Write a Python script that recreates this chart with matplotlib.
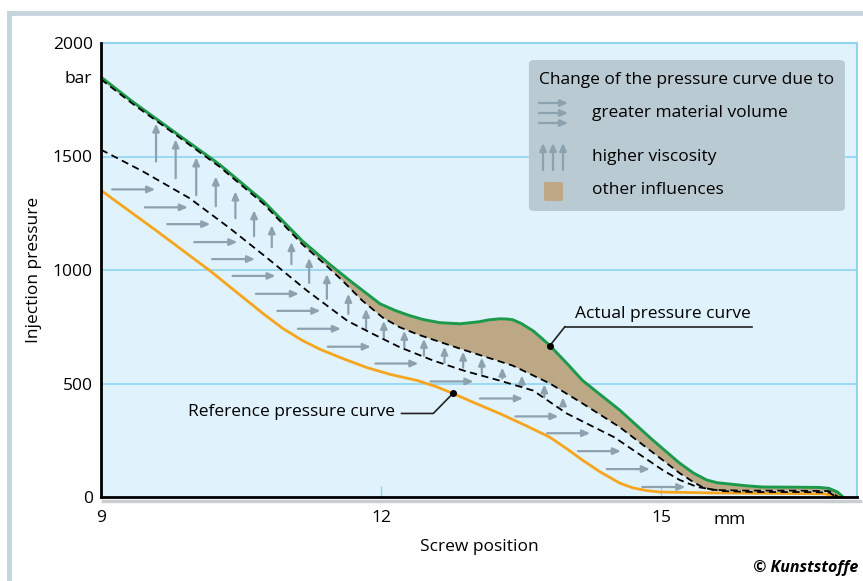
import numpy as np
import matplotlib
matplotlib.use("Agg")
import matplotlib.pyplot as plt
from matplotlib.patches import FancyBboxPatch
from matplotlib.lines import Line2D

plt.rcParams["font.family"] = ["Open Sans", "DejaVu Sans"]

# actual pressure curve (green)
act_x = [9.0, 9.34, 9.8, 10.27, 10.74, 11.16, 11.45, 11.67, 11.85, 11.99, 12.15, 12.3,
         12.45, 12.63, 12.85, 13.05, 13.15, 13.27, 13.35, 13.41, 13.5, 13.63, 13.72,
         13.81, 14.0, 14.16, 14.56, 14.9, 15.2, 15.35, 15.49, 15.6, 15.74, 15.9, 16.09,
         16.5, 16.7, 16.8, 16.89, 16.95]
act_y = [1850, 1741, 1604, 1465, 1303, 1127, 1025, 952, 895, 851, 822, 800,
         782, 768, 763, 772, 780, 785, 784, 781, 765, 732, 700,
         667, 585, 513, 382, 255, 149, 105, 75, 63, 57, 50, 44,
         43, 42, 38, 22, 0]
# upper dashed curve (higher viscosity)
up_x = [9.0, 9.34, 9.8, 10.27, 10.74, 11.16, 11.4, 11.59, 11.8, 12.02, 12.2, 12.4,
        12.85, 13.41, 13.81, 14.16, 14.56, 14.9, 15.2, 15.35, 15.45, 15.56, 15.9,
        16.4, 16.8, 16.9]
up_y = [1840, 1732, 1596, 1455, 1292, 1112, 1025, 952, 865, 790, 748, 715,
        653, 579, 500, 412, 307, 200, 105, 65, 42, 31, 28,
        28, 26, 0]
# lower dashed curve (greater material volume)
lo_x = [9.0, 9.45, 9.95, 10.38, 10.78, 11.21, 11.64, 11.91, 12.2, 12.56, 12.9, 13.27,
        13.63, 13.99, 14.5, 15.02, 15.2, 15.39, 15.66, 16.0, 16.5, 16.8, 16.88]
lo_y = [1530, 1434, 1316, 1184, 1053, 908, 776, 719, 660, 601, 555, 513,
        469, 368, 263, 118, 75, 44, 26, 22, 22, 20, 0]
# reference pressure curve (orange)
ref_x = [9.0, 9.6, 10.17, 10.74, 10.95, 11.16, 11.35, 11.59, 11.85, 12.1, 12.39, 12.6,
         12.77, 13.0, 13.27, 13.55, 13.81, 14.0, 14.16, 14.35, 14.56, 14.7, 14.85,
         14.99, 15.53, 16.2, 16.75, 16.92]
ref_y = [1351, 1171, 996, 807, 742, 689, 650, 610, 570, 540, 513, 485,
         456, 415, 368, 315, 263, 210, 162, 110, 61, 40, 28,
         22, 18, 16, 14, 0]

# horizontal arrows: start x, y (length in mm)
harr_x = [9.12, 9.47, 9.71, 10.0, 10.19, 10.41, 10.66, 10.89, 11.11, 11.43, 11.94, 12.53,
          13.06, 13.44, 13.78, 14.11, 14.42, 14.80]
harr_y = [1355, 1276, 1202, 1123, 1048, 974, 895, 820, 741, 662, 588, 509,
          434, 355, 281, 202, 123, 44]
harr_len = 0.46
# vertical arrows: x, bottom, top
varr_x = [9.59, 9.80, 10.02, 10.23, 10.44, 10.64, 10.83, 11.04, 11.23, 11.42, 11.65,
          11.84, 12.03, 12.25, 12.46, 12.68, 12.88, 13.08, 13.30, 13.51, 13.75, 13.95]
varr_y0 = [1478, 1404, 1329, 1281, 1228, 1149, 1101, 1026, 943, 873, 807,
           741, 697, 658, 623, 592, 570, 544, 522, 487, 439, 404]
varr_y1 = [1645, 1575, 1496, 1412, 1346, 1263, 1197, 1123, 1053, 982, 895,
           829, 776, 732, 697, 662, 640, 614, 570, 535, 496, 439]

yticks = [0, 500, 1000, 1500, 2000]
xticks = [9, 12, 15]

GREEN = "#1b9a4b"
ORANGE = "#f5a51e"
BROWN = "#bda886"
ARROW = "#8da2af"
BG = "#e0f2fb"
GRID = "#8fd5f2"
FS = 12.5
ARR = dict(arrowstyle="-|>,head_length=0.45,head_width=0.2",
           color=ARROW, lw=1.6, shrinkA=0, shrinkB=0)

fig = plt.figure(figsize=(8.63, 5.81), dpi=100)
ax = fig.add_axes([101 / 863, 1 - 497 / 581, 756 / 863, 454 / 581])
ax.set_facecolor(BG)
ax.set_xlim(9, 17.1)
ax.set_ylim(0, 2000)

for g in [500, 1000, 1500]:
    ax.axhline(g, color=GRID, lw=1.2, zorder=0)

# brown area between actual and upper dashed
ax.fill(np.concatenate([act_x, up_x[::-1]]), np.concatenate([act_y, up_y[::-1]]),
        color=BROWN, lw=0, zorder=1)

for x, y in zip(harr_x, harr_y):
    ax.annotate("", xy=(x + harr_len, y), xytext=(x, y), arrowprops=ARR, zorder=2)
for x, y0, y1 in zip(varr_x, varr_y0, varr_y1):
    ax.annotate("", xy=(x, y1), xytext=(x, y0), arrowprops=ARR, zorder=2)

ax.plot(ref_x, ref_y, color=ORANGE, lw=2.0, zorder=3)
ax.plot(lo_x, lo_y, color="black", lw=1.3, ls=(0, (4, 2.5)), zorder=4)
ax.plot(act_x, act_y, color=GREEN, lw=2.1, zorder=4)
ax.plot(up_x, up_y, color="black", lw=1.3, ls=(0, (4, 2.5)), zorder=5)

# annotations
ax.plot([13.97, 15.98], [750, 750], color="#222222", lw=1.2, zorder=6)
ax.plot([13.97, 13.81], [750, 667], color="#222222", lw=1.2, zorder=6)
ax.plot([13.81], [667], "o", color="black", ms=4, zorder=7)
ax.text(14.08, 805, "Actual pressure curve", fontsize=FS, ha="left", va="center", zorder=7)

ax.plot([12.22, 12.56, 12.77], [368, 368, 456], color="#222222", lw=1.2, zorder=6)
ax.plot([12.77], [456], "o", color="black", ms=4, zorder=7)
ax.text(12.15, 375, "Reference pressure curve", fontsize=FS, ha="right", va="center", zorder=7)

# legend box
ax.add_patch(FancyBboxPatch((0.566, 0.630), 0.418, 0.3326,
                            boxstyle="round,pad=0,rounding_size=0.008",
                            transform=ax.transAxes, fc="#bacad2", ec="none", zorder=8))
ax.text(0.5794, 0.9185, "Change of the pressure curve due to", transform=ax.transAxes,
        fontsize=FS, va="center", ha="left", zorder=9)
for yy in [0.8678, 0.8458, 0.8238]:
    ax.annotate("", xy=(0.6177, yy), xytext=(0.5794, yy), xycoords="axes fraction",
                arrowprops=ARR, zorder=9)
ax.text(0.6495, 0.8458, "greater material volume", transform=ax.transAxes,
        fontsize=FS, va="center", ha="left", zorder=9)
for xx in [0.5847, 0.5979, 0.6111]:
    ax.annotate("", xy=(xx, 0.7797), xytext=(xx, 0.7203), xycoords="axes fraction",
                arrowprops=ARR, zorder=9)
ax.text(0.6495, 0.7489, "higher viscosity", transform=ax.transAxes,
        fontsize=FS, va="center", ha="left", zorder=9)
ax.add_patch(FancyBboxPatch((0.586, 0.652), 0.0251, 0.0419,
                            boxstyle="round,pad=0,rounding_size=0.003",
                            transform=ax.transAxes, fc=BROWN, ec="none", zorder=9))
ax.text(0.6495, 0.676, "other influences", transform=ax.transAxes,
        fontsize=FS, va="center", ha="left", zorder=9)

# axes styling
ax.set_yticks(yticks)
ax.set_yticklabels([str(v) for v in yticks], fontsize=FS)
ax.set_xticks(xticks)
ax.set_xticklabels([str(v) for v in xticks], fontsize=FS)
ax.tick_params(axis="y", length=0, pad=6)
ax.tick_params(axis="x", direction="in", length=8, color=GRID, width=1, pad=9)
ax.text(-0.012, 1842, "bar", transform=ax.get_yaxis_transform(), fontsize=FS,
        ha="right", va="center")
ax.text(15.73, -0.05, "mm", fontsize=FS, ha="center", va="center",
        transform=ax.get_xaxis_transform())
ax.set_xlabel("Screw position", fontsize=FS, labelpad=10)
ax.set_ylabel("Injection pressure", fontsize=FS, labelpad=8)

for s in ["left", "bottom"]:
    ax.spines[s].set_color("black")
    ax.spines[s].set_linewidth(2)
    ax.spines[s].set_zorder(10)
for s in ["top", "right"]:
    ax.spines[s].set_color(GRID)
    ax.spines[s].set_linewidth(1.5)

# shadow under bottom axis
fig.add_artist(Line2D([103 / 863, 860 / 863], [1 - 501 / 581, 1 - 501 / 581],
                      color="#c9cdd0", lw=2.5, zorder=0))

# outer frame
fig.add_artist(Line2D([9 / 863, 1.0], [1 - 13 / 581, 1 - 13 / 581], color="#c6d4dc", lw=3.5))
fig.add_artist(Line2D([9 / 863, 9 / 863], [0, 1 - 13 / 581], color="#c6d4dc", lw=3.5))

fig.text(858 / 863, 1 - 568 / 581, "© Kunststoffe", fontsize=11.5, fontweight="bold",
         fontstyle="italic", ha="right", va="center")

fig.savefig("out.png", dpi=100)
